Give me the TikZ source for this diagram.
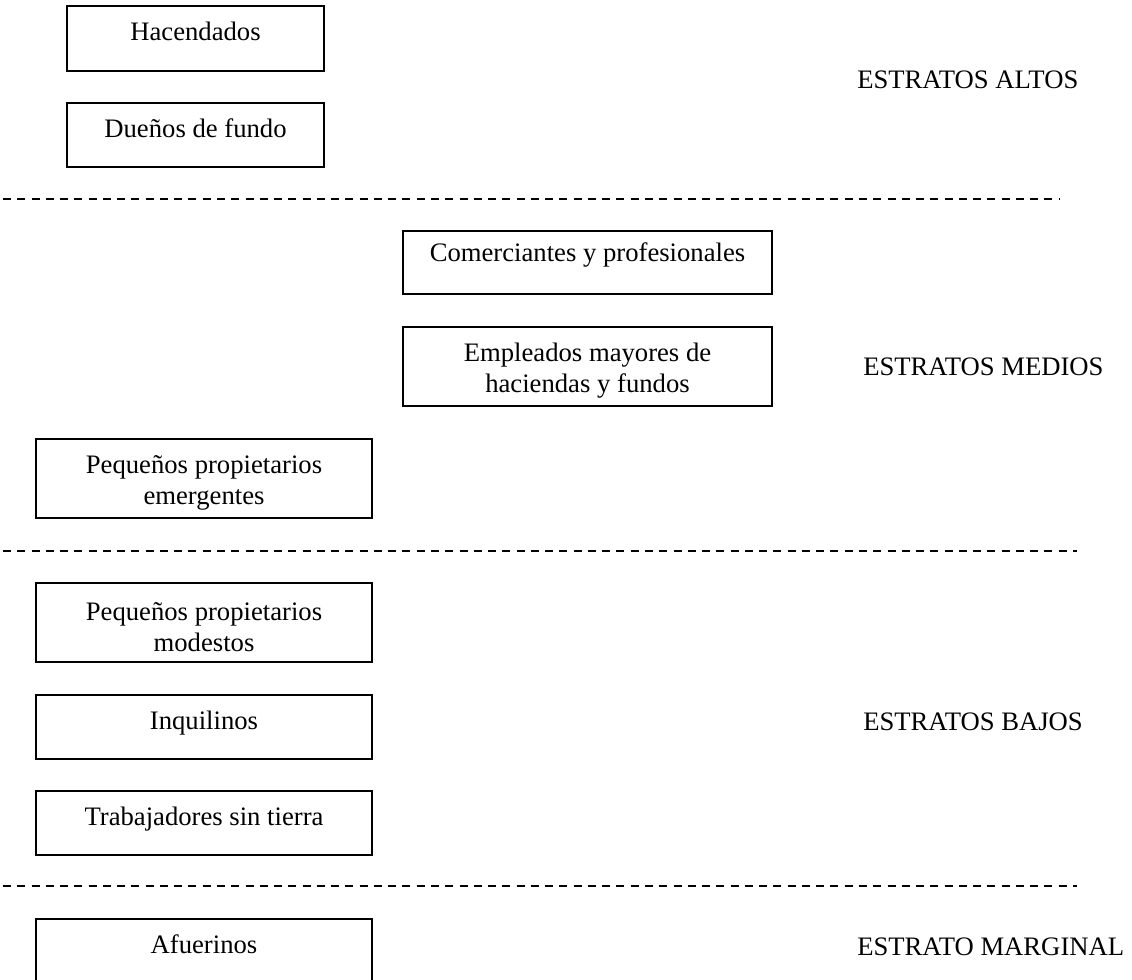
\documentclass[tikz,border=0pt]{standalone}
\usepackage{fontspec}
\setmainfont{Liberation Serif}
% lifts the first line of a two-line box a little lower inside its frame
\newcommand\firstlinestrut{\rule{0pt}{1em}}
\begin{document}
\begin{tikzpicture}[x=0.75pt,y=-0.75pt,
  every node/.style={font=\fontsize{20}{23}\selectfont},
  box/.style={draw, line width=1.5pt, inner sep=0pt, align=center},
  oneline/.style={box, text height=0.72em, text depth=0.42em},
  twoline/.style={box},
  stratum/.style={anchor=base west, inner sep=0pt},
  divider/.style={line width=1.5pt, dash pattern=on 6pt off 4.7pt}]

  % page frame; the last box runs past the lower edge
  \clip (0,0) rectangle (1132,979);

  % upper strata
  \node[oneline, minimum width=257*0.75pt, minimum height=65*0.75pt] (hac) at (195.5,38.5) {Hacendados};
  \node[oneline, minimum width=257*0.75pt, minimum height=64*0.75pt] (due) at (195.5,135) {Dueños de fundo};
  \node[stratum] (altos) at (857,88) {ESTRATOS ALTOS};

  % middle strata
  \node[oneline, text height=0.55em, text depth=0.74em, minimum width=369*0.75pt, minimum height=63*0.75pt] (com) at (587.5,262.5) {Comerciantes y profesionales};
  \node[twoline, minimum width=369*0.75pt, minimum height=79*0.75pt] (emp) at (587.5,366.5) {\firstlinestrut Empleados mayores de\\haciendas y fundos};
  \node[twoline, minimum width=336*0.75pt, minimum height=79*0.75pt] (emer) at (204,478.5) {\firstlinestrut Pequeños propietarios\\emergentes};
  \node[stratum] (medios) at (863,375) {ESTRATOS MEDIOS};

  % lower strata
  \node[twoline, minimum width=336*0.75pt, minimum height=79*0.75pt] (mod) at (204,622.5) {\firstlinestrut Pequeños propietarios\\modestos};
  \node[oneline, minimum width=336*0.75pt, minimum height=64*0.75pt] (inq) at (204,727) {Inquilinos};
  \node[oneline, minimum width=336*0.75pt, minimum height=64*0.75pt] (trab) at (204,823) {Trabajadores sin tierra};
  \node[stratum] (bajos) at (863,730) {ESTRATOS BAJOS};

  % marginal stratum
  \node[oneline, minimum width=336*0.75pt, minimum height=65*0.75pt] (afu) at (204,951.5) {Afuerinos};
  \node[stratum] (marginal) at (857,955) {ESTRATO MARGINAL};

  % dashed dividers between strata
  \coordinate (d1a) at (3,199);   \coordinate (d1b) at (1060,199);
  \coordinate (d2a) at (3,551);   \coordinate (d2b) at (1077,551);
  \coordinate (d3a) at (3,886);   \coordinate (d3b) at (1077,886);
  \draw[divider] (d1a) -- (d1b);
  \draw[divider] (d2a) -- (d2b);
  \draw[divider] (d3a) -- (d3b);
\end{tikzpicture}
\end{document}
